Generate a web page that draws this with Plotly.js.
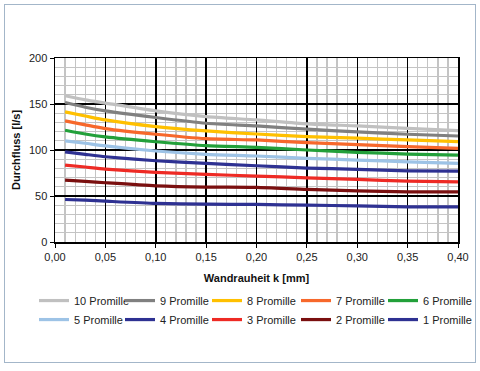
<!DOCTYPE html>
<html>
<head>
<meta charset="utf-8">
<script src="https://cdn.plot.ly/plotly-3.0.1.min.js"></script>
<style>
html,body{margin:0;padding:0;background:#fff;}
#wrap{position:relative;width:480px;height:371px;}
#chart{position:absolute;left:0;top:0;width:480px;height:371px;}
#frame{position:absolute;left:4px;top:4px;width:470px;height:357px;border:1.5px solid #a3b6c9;pointer-events:none;}
</style>
</head>
<body>
<div id="wrap"><div id="chart"></div><div id="frame"></div></div>
<script>
const roughness = [0.01, 0.03, 0.05, 0.10, 0.15, 0.20, 0.25, 0.30, 0.35, 0.40];
const seriesNames = ["10 Promille","9 Promille","8 Promille","7 Promille","6 Promille","5 Promille","4 Promille","3 Promille","2 Promille","1 Promille"];
const q10 = [159, 154.5, 151, 142.5, 136.3, 132.7, 128.4, 126.2, 123.6, 121];
const q9  = [151.6, 146.5, 142.5, 135.3, 129.1, 126.2, 122.6, 119.6, 117.1, 115.2];
const q8  = [141.4, 137, 132.7, 125.4, 120.7, 117.4, 114.5, 112.8, 110.9, 109];
const q7  = [131.6, 127.3, 123.3, 117.1, 112.3, 110.9, 108, 105.8, 103.6, 101.8];
const q6  = [121.5, 117.4, 114.2, 109, 104.7, 102.9, 100, 97.5, 95.6, 94.5];
const q5  = [110, 107.3, 104.4, 98.9, 95.3, 93.5, 91, 89.1, 87.2, 85.5];
const q4  = [98, 95.3, 92.7, 88.3, 85.5, 82.9, 80.4, 79, 77.4, 77];
const q3  = [83.6, 81.5, 79.3, 75.7, 73.5, 71.6, 69.8, 68, 66.2, 65.4];
const q2  = [67.3, 65.9, 64.4, 61.1, 59.7, 59.3, 57.1, 55.6, 54.5, 54.5];
const q1  = [46.2, 45.5, 44.4, 41.9, 41.1, 40.8, 40, 39.3, 38.2, 38.2];
const allSeries = [q10,q9,q8,q7,q6,q5,q4,q3,q2,q1];
const colors = ["#c0c0c0","#808080","#ffc000","#f7682b","#22a03a","#9dc3e6","#2e3192","#ee2a24","#7a0f0f","#2e3192"];

const legendIds = ['legend','legend2','legend3','legend4','legend5'];
const traces = allSeries.map((ys, i) => ({
  x: roughness, y: ys, name: seriesNames[i], type: 'scatter', mode: 'lines',
  legend: legendIds[i % 5],
  line: {color: colors[i], width: 3.2, shape: 'spline', smoothing: 0.6}
}));

const fontFam = '"Liberation Sans", Arial, sans-serif';
const legendBase = (x) => ({
  orientation: 'v', x: x, y: -0.2395, xanchor: 'left', yanchor: 'top',
  traceorder: 'normal', itemwidth: 30, tracegroupgap: 0,
  bgcolor: 'rgba(0,0,0,0)',
  font: {family: fontFam, size: 11, color: '#222'}
});
const layout = {
  width: 480, height: 371,
  margin: {l: 55, r: 22, t: 58, b: 129, pad: 0, autoexpand: false},
  paper_bgcolor: 'rgba(0,0,0,0)', plot_bgcolor: '#fff',
  separators: ',.',
  font: {family: fontFam, size: 11, color: '#222'},
  showlegend: true,
  legend: legendBase(-0.0521),
  legend2: legendBase(0.1613),
  legend3: legendBase(0.3772),
  legend4: legendBase(0.5980),
  legend5: legendBase(0.8139),
  xaxis: {
    range: [0, 0.40], dtick: 0.05, tick0: 0, tickformat: '.2f',
    showgrid: true, gridcolor: '#000', gridwidth: 1.5,
    minor: {dtick: 0.01, showgrid: true, gridcolor: '#c4c4c4', gridwidth: 1.3},
    showline: true, linecolor: '#000', linewidth: 1.5, mirror: true,
    ticks: 'outside', ticklen: 4, tickcolor: '#000', zeroline: false,
    title: {text: '<b>Wandrauheit k [mm]</b>', font: {size: 11, family: fontFam, color: '#111'}, standoff: 12}
  },
  yaxis: {
    range: [0, 200], dtick: 50, tick0: 0,
    showgrid: true, gridcolor: '#000', gridwidth: 1.5,
    minor: {dtick: 10, showgrid: true, gridcolor: '#c4c4c4', gridwidth: 1.3},
    showline: true, linecolor: '#000', linewidth: 1.5, mirror: true,
    ticks: 'outside', ticklen: 4, tickcolor: '#000', zeroline: false,
    title: {text: '<b>Durchfluss [l/s]</b>', font: {size: 11, family: fontFam, color: '#111'}, standoff: 6}
  }
};
Plotly.newPlot('chart', traces, layout, {displayModeBar: false, staticPlot: true});
</script>
</body>
</html>
